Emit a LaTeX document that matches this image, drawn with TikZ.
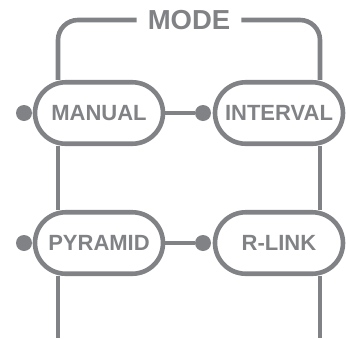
\documentclass[tikz,border=0pt]{standalone}
\usepackage{fontspec}
\setmainfont{Liberation Sans}
\definecolor{lgray}{RGB}{128,130,133}
\begin{document}
\begin{tikzpicture}[x=1pt,y=-1pt,
  capsule/.style={draw=lgray, line width=4.6pt, rectangle, rounded corners=30.75pt,
    minimum width=128pt, minimum height=61.5pt, inner sep=0pt,
    text=lgray, font=\fontsize{22}{22}\selectfont\bfseries},
  dot/.style={circle, fill=lgray, draw=none, minimum size=16pt, inner sep=0pt},
  wire/.style={draw=lgray, line width=4.6pt},
  title/.style={text=lgray, inner xsep=11pt, inner ysep=0pt, font=\fontsize{27.5}{27.5}\selectfont\bfseries}]
\useasboundingbox (0,0) rectangle (346,338);
\node[title] (mode) at (189,20) {MODE};
\node[capsule] (manual) at (99,113) {\raisebox{-1.5pt}{MANUAL}};
\node[capsule] (interval) at (279,113) {\raisebox{-1.5pt}{INTERVAL}};
\node[capsule] (pyramid) at (99,243) {\raisebox{-1pt}{PYRAMID}};
\node[capsule] (rlink) at (279,243) {\raisebox{-1pt}{R-LINK}};
\node[dot] (d1) at (24,113) {};
\node[dot] (d2) at (203,113) {};
\node[dot] (d3) at (24,243) {};
\node[dot] (d4) at (203,243) {};
\coordinate (lx) at (58,338);
\coordinate (rx) at (320,338);
\draw[wire, rounded corners=20pt] (mode.west) -| (manual.north -| lx);
\draw[wire, rounded corners=20pt] (mode.east) -| (interval.north -| rx);
\draw[wire] (manual.south -| lx) -- (pyramid.north -| lx);
\draw[wire] (interval.south -| rx) -- (rlink.north -| rx);
\draw[wire] (pyramid.south -| lx) -- (lx);
\draw[wire] (rlink.south -| rx) -- (rx);
\draw[wire] (manual.east) -- (d2);
\draw[wire] (pyramid.east) -- (d4);
\end{tikzpicture}
\end{document}
